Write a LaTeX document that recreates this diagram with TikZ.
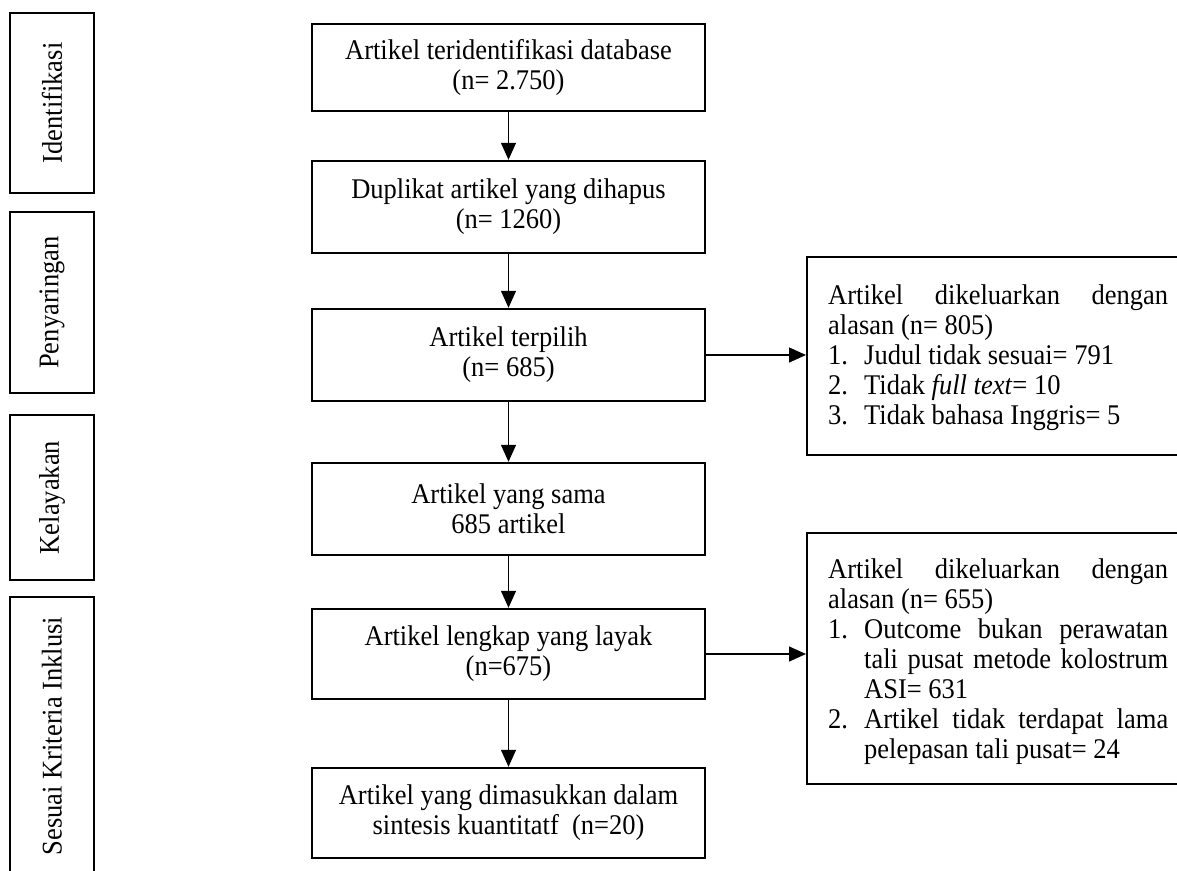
\documentclass[tikz,border=0pt]{standalone}
\usepackage{fontspec}
\setmainfont{Liberation Serif}[FakeStretch=0.93]
\usetikzlibrary{arrows.meta}
\newcommand{\myfs}{\fontsize{28.5}{30}\selectfont}
\begin{document}
\begin{tikzpicture}[x=1pt,y=-1pt,
  mainbox/.style={draw, line width=2.4pt, inner sep=0pt, align=center, minimum width=393pt, font=\myfs},
  sidebox/.style={draw, line width=2.4pt, inner sep=0pt, align=center, rotate=90, minimum height=84pt, font=\myfs},
  outbox/.style={draw, line width=2.4pt, inner sep=0pt, anchor=west, minimum width=430pt},
  outtext/.style={anchor=west, inner sep=0pt, text width=340pt, align=justify, font=\myfs},
  arr/.style={line width=1.3pt, -{Triangle[length=17pt,width=15pt]}}]
\fill[white] (0,0) rectangle (1177,870);
\clip (0,0) rectangle (1177,870);

% side boxes
\node[sidebox, minimum width=180pt] (s1) at (52,103) {Identifikasi};
\node[sidebox, minimum width=181pt] (s2) at (52,302.5) {Penyaringan};
\node[sidebox, minimum width=165pt] (s3) at (52,497.5) {Kelayakan};
\node[sidebox, minimum width=278pt] (s4) at (52,736) {Sesuai Kriteria Inklusi};

% main boxes
\node[mainbox, minimum height=87pt] (b1) at (508.5,67.5) {Artikel teridentifikasi database\\(n= 2.750)};
\node[mainbox, minimum height=92pt] (b2) at (508.5,207) {Duplikat artikel yang dihapus\\(n= 1260)};
\node[mainbox, minimum height=92pt] (b3) at (508.5,355) {Artikel terpilih\\(n= 685)};
\node[mainbox, minimum height=92pt] (b4) at (508.5,509) {Artikel yang sama\\685 artikel};
\node[mainbox, minimum height=90pt] (b5) at (508.5,654) {Artikel lengkap yang layak\\(n=675)};
\node[mainbox, minimum height=90pt] (b6) at (508.5,813) {Artikel yang dimasukkan dalam\\sintesis kuantitatf\ \ (n=20)};

% excluded boxes
\node[outbox, minimum height=198pt] (r1) at (806,356) {};
\node[outtext] (r1t) at (828,358) {\hyphenpenalty=10000 \tolerance=9000
\noindent Artikel dikeluarkan dengan alasan (n= 805)\par
\noindent\hangindent=36pt\hbox to 36pt{1.\hfil}Judul tidak sesuai= 791\par
\noindent\hangindent=36pt\hbox to 36pt{2.\hfil}Tidak \textit{full text}= 10\par
\noindent\hangindent=36pt\hbox to 36pt{3.\hfil}Tidak bahasa Inggris= 5\par};

\node[outbox, minimum height=251pt] (r2) at (806,658.5) {};
\node[outtext] (r2t) at (828,662) {\hyphenpenalty=10000 \tolerance=9000
\noindent Artikel dikeluarkan dengan alasan (n= 655)\par
\noindent\hangindent=36pt\hbox to 36pt{1.\hfil}Outcome bukan perawatan tali pusat metode kolostrum ASI= 631\par
\noindent\hangindent=36pt\hbox to 36pt{2.\hfil}Artikel tidak terdapat lama pelepasan tali pusat= 24\par};

% connectors
\draw[arr] (b1) -- (b2);
\draw[arr] (b2) -- (b3);
\draw[arr] (b3) -- (b4);
\draw[arr] (b4) -- (b5);
\draw[arr] (b5) -- (b6);
\draw[arr] (b3.east) -- (b3.east -| r1.west);
\draw[arr] (b5.east) -- (b5.east -| r2.west);
\end{tikzpicture}
\end{document}
